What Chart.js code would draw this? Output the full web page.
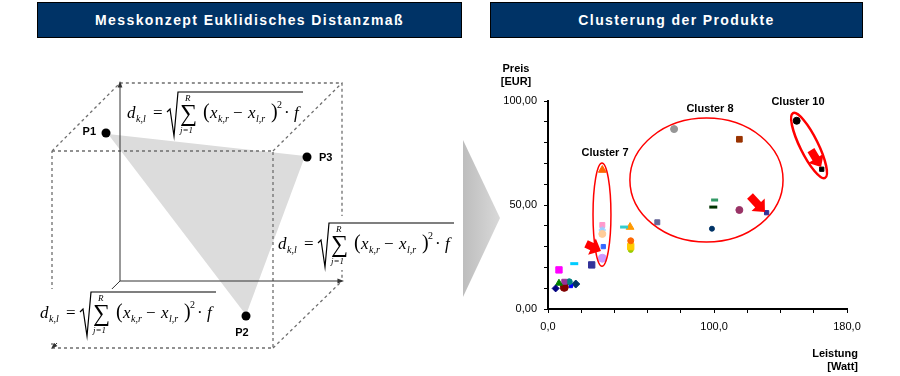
<!DOCTYPE html>
<html>
<head>
<meta charset="utf-8">
<script src="https://cdn.jsdelivr.net/npm/chart.js@4/dist/chart.umd.min.js"></script>
<style>
  body{margin:0;background:#fff;font-family:"Liberation Sans",Arial,sans-serif;}
  #wrap{position:relative;width:900px;height:376px;overflow:hidden;}
  #c{position:absolute;left:0;top:0;}
  .hdr{position:absolute;top:2px;height:34px;background:#003366;border:1px solid #000;color:#fff;
       font-weight:bold;font-size:14px;letter-spacing:1.4px;line-height:34px;text-align:center;}
  .ttl{position:absolute;font-weight:bold;font-size:11px;line-height:13px;color:#000;}
</style>
</head>
<body>
<div id="wrap">
  <canvas id="c" width="900" height="376"></canvas>
  <div class="hdr" style="left:37px;width:423px;">Messkonzept Euklidisches Distanzmaß</div>
  <div class="hdr" style="left:490px;width:371px;">Clusterung der Produkte</div>
  <div class="ttl" style="left:496px;top:62px;width:40px;text-align:center;">Preis<br>[EUR]</div>
  <div class="ttl" style="left:790px;top:347px;width:68px;text-align:right;">Leistung<br>[Watt]</div>
</div>
<script>
// Produkte: Leistung [Watt] und Preis [EUR]
const leistung = [4.6, 6.6, 9.8, 9.8, 12.8, 13.7, 16.7, 6.6, 15.8, 26.3, 32.7, 33.3, 32.7, 32.7, 32.7, 32.7,
                  45.8, 49.4, 49.8, 49.8, 49.8, 65.8, 75.9, 115.2, 100.3, 99.5, 115.2, 131.6, 98.7, 149.7, 164.8];
const preis    = [9.9, 12.4, 13.1, 10.4, 13.1, 11.1, 12.0, 18.8, 21.8, 21.2, 24.4, 30.0, 36.1, 38.0, 40.4, 66.8,
                  39.4, 39.4, 32.8, 30.0, 28.4, 41.7, 86.5, 81.6, 52.4, 49.0, 47.6, 46.3, 38.6, 90.5, 67.2];
const xTicks = [0, 100, 180];
const yTicks = [0, 50, 100];
const clusterNamen = ['Cluster 7', 'Cluster 8', 'Cluster 10'];

// Markerstile je Produkt (Excel-artig)
const markers = [
  ['#000080','rectRot',3.5],['#008000','triangle',4],['#993399','rect',3.5],['#800000','circle',4],
  ['#008080','circle',3],['#0000ff','rect',2.5],['#003366','rectRot',4],['#ff00ff','rect',4.5],
  ['#00ccff','line',4],['#333399','rect',4.5],['#cc99ff','circle',4],['#3366ff','rect',3],
  ['#ffcc99','circle',3.5],['#99ccff','star',3.5],['#ff99cc','rect',3.5],['#ff6600','triangle',4.5],
  ['#33cccc','line',4],['#ff9900','triangle',4.5],['#ff6600','circle',3],['#ffcc00','rect',4.5],
  ['#99cc00','circle',2.5],['#666699','rect',3.5],['#969696','circle',3.5],['#993300','rect',4],
  ['#339966','line',3.5],['#003300','line',4],['#993366','circle',3.5],['#333399','rect',3],
  ['#003366','circle',2.5],['#000000','circle',3.5],['#000000','rect',3]
];

// Annotationen in Datenkoordinaten
const ellipses = [
  {cx:32.5, cy:45.4, rx:5.4, ry:24.8, w:1.5},
  {cx:95.4, cy:62.0, rx:46.1, ry:29.8, w:1.5}
];
const rotEllipse = {a:[147.5,94.2], b:[166.8,63.0], minor:9, w:2.5};
const arrows = [
  {t:[22.9,31.3], p:[31.9,27.9]},
  {t:[121.6,54.3], p:[130.6,46.6]},
  {t:[158.3,76.4], p:[164.4,68.3]}
];
const labelPos = [[34.3,75.0],[97.5,96.2],[150.5,99.5]];

const datasets = leistung.map((x,i)=>{
  const m = markers[i];
  return {
    data:[{x:x, y:preis[i]}],
    pointStyle:m[1], pointRadius:m[2],
    backgroundColor:m[0], borderColor:m[0],
    borderWidth: m[1]==='line' ? 3 : (m[1]==='star' ? 1.5 : 1)
  };
});

function formula(ctx, x0, yTop, bg){
  const base = yTop + 26;
  ctx.save();
  if(bg){ ctx.fillStyle='#fff'; ctx.fillRect(bg[0], bg[1], bg[2], bg[3]); }
  ctx.fillStyle='#000'; ctx.strokeStyle='#000';
  ctx.textAlign='left'; ctx.textBaseline='alphabetic';
  ctx.font='italic 17px "Liberation Serif"';
  ctx.fillText('d', x0, base);
  ctx.font='italic 10px "Liberation Serif"';
  ctx.fillText('k,l', x0+9, base+4);
  ctx.font='17px "Liberation Serif"';
  ctx.fillText('=', x0+26, base);
  ctx.lineWidth=1.2;
  ctx.beginPath();
  ctx.moveTo(x0+40, base-6); ctx.lineTo(x0+43, base-9);
  ctx.lineTo(x0+47, yTop+44); ctx.lineTo(x0+51, yTop); ctx.lineTo(x0+176, yTop);
  ctx.stroke();
  ctx.font='24px "Liberation Serif"';
  ctx.fillText('\u2211', x0+53, base+3);
  ctx.font='italic 9px "Liberation Serif"';
  ctx.fillText('R', x0+58, yTop+9);
  ctx.fillText('j=1', x0+53, yTop+41);
  ctx.font='20px "Liberation Serif"';
  ctx.fillText('(', x0+76, base);
  ctx.fillText(')', x0+144, base);
  ctx.font='italic 17px "Liberation Serif"';
  ctx.fillText('x', x0+83, base);
  ctx.fillText('x', x0+121, base);
  ctx.fillText('f', x0+167, base);
  ctx.font='17px "Liberation Serif"';
  ctx.fillText('\u2212', x0+106, base);
  ctx.fillText('\u00b7', x0+157, base);
  ctx.font='italic 10px "Liberation Serif"';
  ctx.fillText('k,r', x0+91, base+4);
  ctx.fillText('l,r', x0+129, base+4);
  ctx.font='10px "Liberation Serif"';
  ctx.fillText('2', x0+150, base-10);
  ctx.restore();
}

function arrowHead(ctx, x1, y1, x2, y2){
  const a = Math.atan2(y2-y1, x2-x1);
  ctx.beginPath();
  ctx.moveTo(x2, y2);
  ctx.lineTo(x2-7*Math.cos(a-0.35), y2-7*Math.sin(a-0.35));
  ctx.lineTo(x2-7*Math.cos(a+0.35), y2-7*Math.sin(a+0.35));
  ctx.closePath(); ctx.fill();
}

function line(ctx, pts, dashed){
  ctx.setLineDash(dashed ? [3,3] : []);
  ctx.beginPath();
  ctx.moveTo(pts[0][0], pts[0][1]);
  for(let i=1;i<pts.length;i++) ctx.lineTo(pts[i][0], pts[i][1]);
  ctx.stroke();
}

// linke Skizze + Pfeil in der Mitte
const diagramPlugin = {
  id:'diagram',
  beforeDraw(chart){
    const ctx = chart.ctx;
    ctx.save();
    // Dreieck P1-P3-P2
    ctx.fillStyle='#dcdcdc';
    ctx.beginPath(); ctx.moveTo(108,134); ctx.lineTo(305,156); ctx.lineTo(246,315); ctx.closePath(); ctx.fill();
    // gestrichelter Wuerfel
    ctx.strokeStyle='#6e6e6e'; ctx.lineWidth=1.3;
    line(ctx, [[52,151],[273,151],[273,348],[52,348],[52,151]], true);
    line(ctx, [[52,151],[120,83],[342,83],[342,281]], true);
    line(ctx, [[273,151],[342,83]], true);
    line(ctx, [[273,348],[342,281]], true);
    // Achsen
    ctx.strokeStyle='#333'; ctx.fillStyle='#333'; ctx.lineWidth=1;
    line(ctx, [[120,281],[120,86]], false);
    line(ctx, [[120,281],[339,281]], false);
    line(ctx, [[120,281],[55,345]], false);
    ctx.setLineDash([]);
    arrowHead(ctx,120,281,120,81);
    arrowHead(ctx,120,281,344,281);
    arrowHead(ctx,120,281,51,349);
    // Formeln
    formula(ctx, 127, 92, null);
    formula(ctx, 278, 223, [290, 216, 166, 54]);
    formula(ctx, 40, 292, [38, 289, 182, 54]);
    // Punkte
    ctx.fillStyle='#000';
    [[106,133],[307,157],[246,316]].forEach(p=>{ctx.beginPath();ctx.arc(p[0],p[1],4.5,0,Math.PI*2);ctx.fill();});
    ctx.font='bold 11px "Liberation Sans"'; ctx.textBaseline='middle';
    ctx.textAlign='right'; ctx.fillText('P1', 96, 132);
    ctx.textAlign='left'; ctx.fillText('P3', 319, 158);
    ctx.textAlign='center'; ctx.fillText('P2', 242, 333);
    // grauer Pfeil
    const g = ctx.createLinearGradient(463,0,500,0);
    g.addColorStop(0,'#bdbdbd'); g.addColorStop(1,'#d9d9d9');
    ctx.fillStyle=g;
    ctx.beginPath(); ctx.moveTo(463,140); ctx.lineTo(500,218); ctx.lineTo(463,297); ctx.closePath(); ctx.fill();
    ctx.restore();
  },
  afterDatasetsDraw(chart){
    const ctx = chart.ctx, xs = chart.scales.x, ys = chart.scales.y;
    const px = v=>xs.getPixelForValue(v), py = v=>ys.getPixelForValue(v);
    ctx.save();
    ctx.strokeStyle='#ff0000';
    ellipses.forEach(e=>{
      ctx.lineWidth=e.w;
      ctx.beginPath();
      ctx.ellipse(px(e.cx), py(e.cy), Math.abs(px(e.cx+e.rx)-px(e.cx)), Math.abs(py(e.cy+e.ry)-py(e.cy)), 0, 0, Math.PI*2);
      ctx.stroke();
    });
    const ax=px(rotEllipse.a[0]), ay=py(rotEllipse.a[1]), bx=px(rotEllipse.b[0]), by=py(rotEllipse.b[1]);
    ctx.lineWidth=rotEllipse.w;
    ctx.beginPath();
    ctx.ellipse((ax+bx)/2,(ay+by)/2, Math.hypot(bx-ax,by-ay)/2, rotEllipse.minor, Math.atan2(by-ay,bx-ax), 0, Math.PI*2);
    ctx.stroke();
    // Blockpfeile
    ctx.fillStyle='#ff0000';
    arrows.forEach(a=>{
      const tx=px(a.t[0]), ty=py(a.t[1]), qx=px(a.p[0]), qy=py(a.p[1]);
      const L=Math.hypot(qx-tx,qy-ty), ux=(qx-tx)/L, uy=(qy-ty)/L, nx=-uy, ny=ux;
      const hx=qx-ux*10, hy=qy-uy*10;
      ctx.beginPath();
      ctx.moveTo(tx+nx*4, ty+ny*4); ctx.lineTo(hx+nx*4, hy+ny*4); ctx.lineTo(hx+nx*9, hy+ny*9);
      ctx.lineTo(qx, qy);
      ctx.lineTo(hx-nx*9, hy-ny*9); ctx.lineTo(hx-nx*4, hy-ny*4); ctx.lineTo(tx-nx*4, ty-ny*4);
      ctx.closePath(); ctx.fill();
    });
    ctx.fillStyle='#000'; ctx.font='bold 11px "Liberation Sans"';
    ctx.textAlign='center'; ctx.textBaseline='middle';
    clusterNamen.forEach((n,i)=>ctx.fillText(n, px(labelPos[i][0]), py(labelPos[i][1])));
    ctx.restore();
  }
};

new Chart(document.getElementById('c'),{
  type:'scatter',
  data:{datasets:datasets},
  options:{
    responsive:false, animation:false, devicePixelRatio:1,
    layout:{padding:{left:490, right:53, top:101, bottom:0}},
    plugins:{legend:{display:false}, tooltip:{enabled:false}},
    scales:{
      x:{
        type:'linear', min:0, max:180,
        afterFit(s){ s.height = 67; },
        ticks:{stepSize:20, padding:7, color:'#000', maxRotation:0, minRotation:0, autoSkip:false,
          font:{family:'Liberation Sans', size:11},
          callback:v=> xTicks.includes(v) ? v.toFixed(1).replace('.',',') : ''},
        grid:{drawOnChartArea:false, drawTicks:true, tickLength:4, color:'#000', lineWidth:1},
        border:{display:true, color:'#000', width:2}
      },
      y:{
        type:'linear', min:0, max:100,
        afterFit(s){ s.width = 58; },
        ticks:{stepSize:10, padding:7, color:'#000', autoSkip:false,
          font:{family:'Liberation Sans', size:11},
          callback:v=> yTicks.includes(v) ? v.toFixed(2).replace('.',',') : ''},
        grid:{drawOnChartArea:false, drawTicks:true, tickLength:4, color:'#000', lineWidth:1},
        border:{display:true, color:'#000', width:2}
      }
    }
  },
  plugins:[diagramPlugin]
});
</script>
</body>
</html>
